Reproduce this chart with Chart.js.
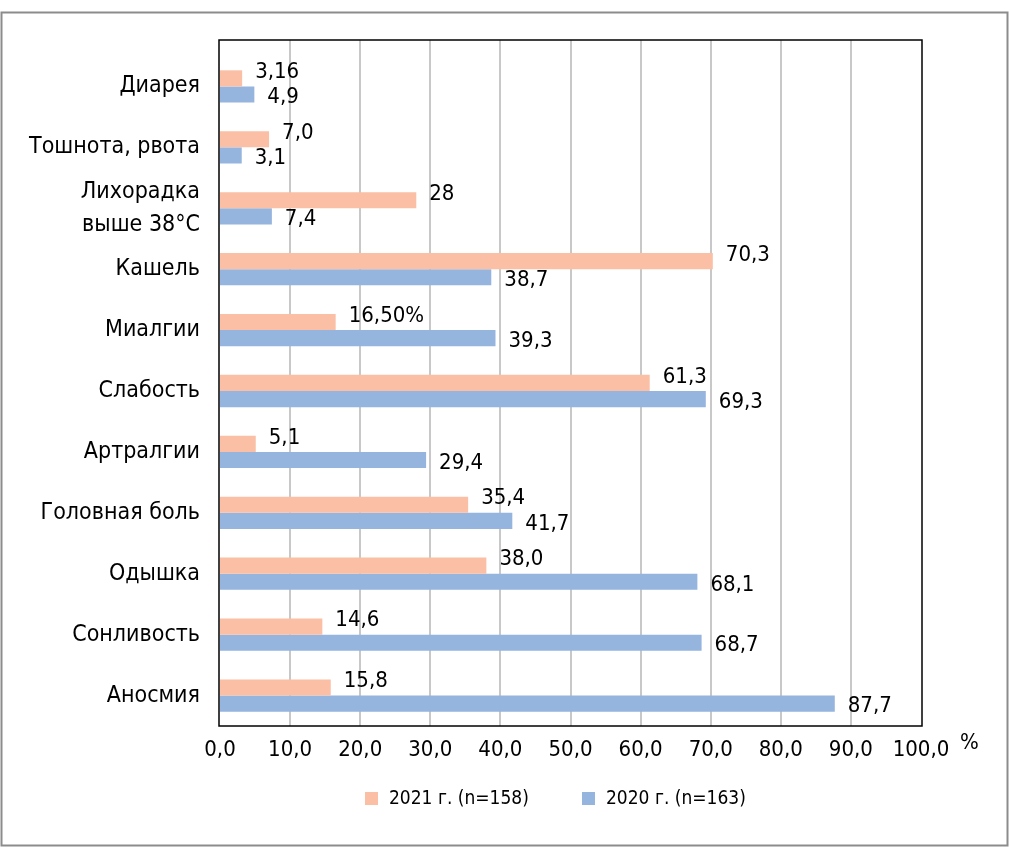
<!DOCTYPE html>
<html>
<head>
<meta charset="utf-8">
<script src="https://cdn.jsdelivr.net/npm/chart.js@4.4.1/dist/chart.umd.min.js"></script>
<style>
  html, body { margin: 0; padding: 0; background: #fff; }
  #wrap { width: 1010px; height: 849px; }
</style>
</head>
<body>
<div id="wrap"><canvas id="chart" width="1010" height="849"></canvas></div>
<script>
const FONT = "'Liberation Sans Narrow', 'DejaVu Sans Condensed', sans-serif";

const categories = [
  'Диарея',
  'Тошнота, рвота',
  ['Лихорадка', 'выше 38°C'],
  'Кашель',
  'Миалгии',
  'Слабость',
  'Артралгии',
  'Головная боль',
  'Одышка',
  'Сонливость',
  'Аносмия'
];

const values2021 = [3.16, 7.0, 28, 70.3, 16.5, 61.3, 5.1, 35.4, 38.0, 14.6, 15.8];
const values2020 = [4.9, 3.1, 7.4, 38.7, 39.3, 69.3, 29.4, 41.7, 68.1, 68.7, 87.7];

const labels2021 = ['3,16', '7,0', '28', '70,3', '16,50%', '61,3', '5,1', '35,4', '38,0', '14,6', '15,8'];
const labels2020 = ['4,9', '3,1', '7,4', '38,7', '39,3', '69,3', '29,4', '41,7', '68,1', '68,7', '87,7'];

const seriesNames = ['2021 г. (n=158)', '2020 г. (n=163)'];

const COLORS = {
  salmon: '#fbbfa6',
  blue: '#95b4de',
  grid: '#c8c8c8',
  frame: '#8c8c8c',
};

// frame, gridlines, box, value labels, legend
const decor = {
  id: 'decor',
  beforeDraw(chart) {
    const ctx = chart.ctx;
    ctx.save();
    ctx.fillStyle = '#fff';
    ctx.fillRect(0, 0, chart.width, chart.height);
    ctx.strokeStyle = COLORS.frame;
    ctx.lineWidth = 2;
    ctx.strokeRect(1.5, 12.5, 1006, 833);
    ctx.restore();
  },
  beforeDatasetsDraw(chart) {
    const { ctx, chartArea, scales } = chart;
    const top = chartArea.top - 16;
    ctx.save();
    ctx.strokeStyle = COLORS.grid;
    ctx.lineWidth = 2;
    scales.x.ticks.forEach(t => {
      if (t.value <= 0 || t.value >= 100) return;
      const x = Math.round(scales.x.getPixelForValue(t.value));
      ctx.beginPath();
      ctx.moveTo(x, top);
      ctx.lineTo(x, chartArea.bottom);
      ctx.stroke();
    });
    ctx.restore();
  },
  afterDatasetsDraw(chart) {
    const { ctx, chartArea, scales } = chart;
    const top = chartArea.top - 16;
    ctx.save();
    // plot box
    ctx.strokeStyle = '#000';
    ctx.lineWidth = 1.5;
    ctx.strokeRect(chartArea.left - 1, top, chartArea.right - chartArea.left + 2, chartArea.bottom - top);

    // value labels
    ctx.fillStyle = '#000';
    ctx.font = '22px ' + FONT;
    ctx.textAlign = 'left';
    ctx.textBaseline = 'middle';
    [labels2021, labels2020].forEach((labels, di) => {
      const meta = chart.getDatasetMeta(di);
      meta.data.forEach((bar, i) => {
        const dy = di === 0 ? -6 : 3;
        ctx.fillText(labels[i], bar.x + 13, bar.y + dy);
      });
    });

    // % unit next to last tick
    ctx.fillText('%', 960, scales.x.top + 17);

    // legend
    const items = [
      { name: seriesNames[0], color: COLORS.salmon, x: 365 },
      { name: seriesNames[1], color: COLORS.blue, x: 582 },
    ];
    ctx.font = '19px ' + FONT;
    items.forEach(it => {
      ctx.fillStyle = it.color;
      ctx.fillRect(it.x, 792, 13, 13);
      ctx.fillStyle = '#000';
      ctx.fillText(it.name, it.x + 24, 799);
    });
    ctx.restore();
  }
};

new Chart(document.getElementById('chart'), {
  type: 'bar',
  data: {
    labels: categories,
    datasets: [
      {
        label: seriesNames[0],
        data: values2021,
        backgroundColor: COLORS.salmon,
        borderWidth: 0,
        categoryPercentage: 0.53,
        barPercentage: 1.0,
      },
      {
        label: seriesNames[1],
        data: values2020,
        backgroundColor: COLORS.blue,
        borderWidth: 0,
        categoryPercentage: 0.53,
        barPercentage: 1.0,
      }
    ]
  },
  options: {
    indexAxis: 'y',
    responsive: false,
    animation: false,
    layout: { padding: { top: 56, right: 89, left: 0, bottom: 0 } },
    plugins: {
      legend: { display: false },
      tooltip: { enabled: false },
    },
    scales: {
      x: {
        min: 0,
        max: 100,
        grid: { display: false },
        border: { display: false },
        ticks: {
          stepSize: 10,
          color: '#000',
          padding: 3,
          maxRotation: 0,
          autoSkip: false,
          font: { family: FONT, size: 22 },
          callback: v => v.toFixed(1).replace('.', ','),
        },
        afterFit(scale) { scale.height = 123; },
      },
      y: {
        grid: { display: false },
        border: { display: false },
        ticks: {
          color: '#000',
          padding: 12,
          autoSkip: false,
          font: { family: FONT, size: 23, lineHeight: 1.45 },
        },
        afterFit(scale) { scale.width = 220; },
      }
    }
  },
  plugins: [decor]
});
</script>
</body>
</html>
